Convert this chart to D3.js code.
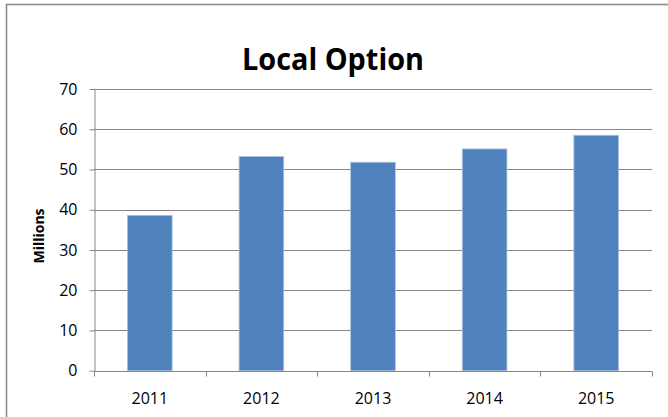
<!DOCTYPE html>
<html>
<head>
<meta charset="utf-8">
<script src="https://cdn.jsdelivr.net/npm/d3@7"></script>
<style>
  html, body { margin: 0; padding: 0; background: #fff; }
  svg { display: block; }
</style>
</head>
<body>
<svg id="chart" width="668" height="417"></svg>
<script>
// Local option revenue by year, in millions
const years = ["2011", "2012", "2013", "2014", "2015"];
const revenue = [38.6, 53.2, 51.8, 55.1, 58.5];
const yTicks = [0, 10, 20, 30, 40, 50, 60, 70];

const svg = d3.select("#chart");
const font = "'Open Sans', 'Liberation Sans', sans-serif";

const plot = { left: 94, right: 652, top: 89, bottom: 370.7 };

// chart frame (runs off the right and bottom edges)
svg.append("rect")
  .attr("x", 6.5).attr("y", 4.5)
  .attr("width", 720).attr("height", 460)
  .attr("fill", "#fff")
  .attr("stroke", "#8c8c8c")
  .attr("stroke-width", 1.6);

const x = d3.scaleBand()
  .domain(years)
  .range([plot.left, plot.right])
  .paddingInner(0.6)
  .paddingOuter(0.3);

const y = d3.scaleLinear()
  .domain([0, 70])
  .range([plot.bottom, plot.top]);

// horizontal gridlines
svg.append("g")
  .selectAll("line")
  .data(yTicks.filter(d => d > 0))
  .join("line")
  .attr("x1", plot.left).attr("x2", plot.right)
  .attr("y1", d => Math.round(y(d)) + 0.5)
  .attr("y2", d => Math.round(y(d)) + 0.5)
  .attr("stroke", "#858585")
  .attr("stroke-width", 1.2);

// bars
svg.append("g")
  .selectAll("rect")
  .data(years.map((yr, i) => ({ yr, v: revenue[i] })))
  .join("rect")
  .attr("x", d => x(d.yr))
  .attr("y", d => y(d.v))
  .attr("width", x.bandwidth())
  .attr("height", d => y(0) - y(d.v))
  .attr("fill", "#4f81bd")
  .attr("stroke", "#a9c1e0")
  .attr("stroke-width", 0.8);

// y axis
const yAxis = svg.append("g")
  .attr("transform", `translate(${plot.left + 0.5},0)`)
  .call(d3.axisLeft(y).tickValues(yTicks).tickSize(5).tickPadding(12).tickSizeOuter(0));
yAxis.select(".domain").attr("stroke", "#858585");
yAxis.selectAll(".tick line").attr("stroke", "#858585");
yAxis.selectAll(".tick text")
  .attr("font-family", font)
  .attr("font-size", 16)
  .attr("fill", "#000");

// x axis with ticks at category boundaries
const xAxisG = svg.append("g")
  .attr("transform", `translate(0,${Math.round(plot.bottom) + 0.5})`);
xAxisG.append("line")
  .attr("x1", plot.left).attr("x2", plot.right)
  .attr("stroke", "#858585");
const bounds = d3.range(years.length + 1).map(i => plot.left + i * (plot.right - plot.left) / years.length);
xAxisG.selectAll(".bt")
  .data(bounds)
  .join("line")
  .attr("class", "bt")
  .attr("x1", d => Math.round(d) + 0.5).attr("x2", d => Math.round(d) + 0.5)
  .attr("y1", 0).attr("y2", 5)
  .attr("stroke", "#858585");
xAxisG.selectAll("text")
  .data(years)
  .join("text")
  .attr("x", d => x(d) + x.bandwidth() / 2)
  .attr("y", 32)
  .attr("text-anchor", "middle")
  .attr("font-family", font)
  .attr("font-size", 16)
  .attr("fill", "#000")
  .text(d => d);

// y axis title
svg.append("text")
  .attr("transform", "translate(44,236) rotate(-90)")
  .attr("text-anchor", "middle")
  .attr("font-family", font)
  .attr("font-weight", "bold")
  .attr("font-size", 14)
  .attr("fill", "#000")
  .text("Millions");

// chart title
svg.append("text")
  .attr("x", 333)
  .attr("y", 70)
  .attr("text-anchor", "middle")
  .attr("font-family", font)
  .attr("font-weight", "bold")
  .attr("font-size", 31)
  .attr("textLength", 182)
  .attr("lengthAdjust", "spacingAndGlyphs")
  .attr("fill", "#000")
  .text("Local Option");
</script>
</body>
</html>
